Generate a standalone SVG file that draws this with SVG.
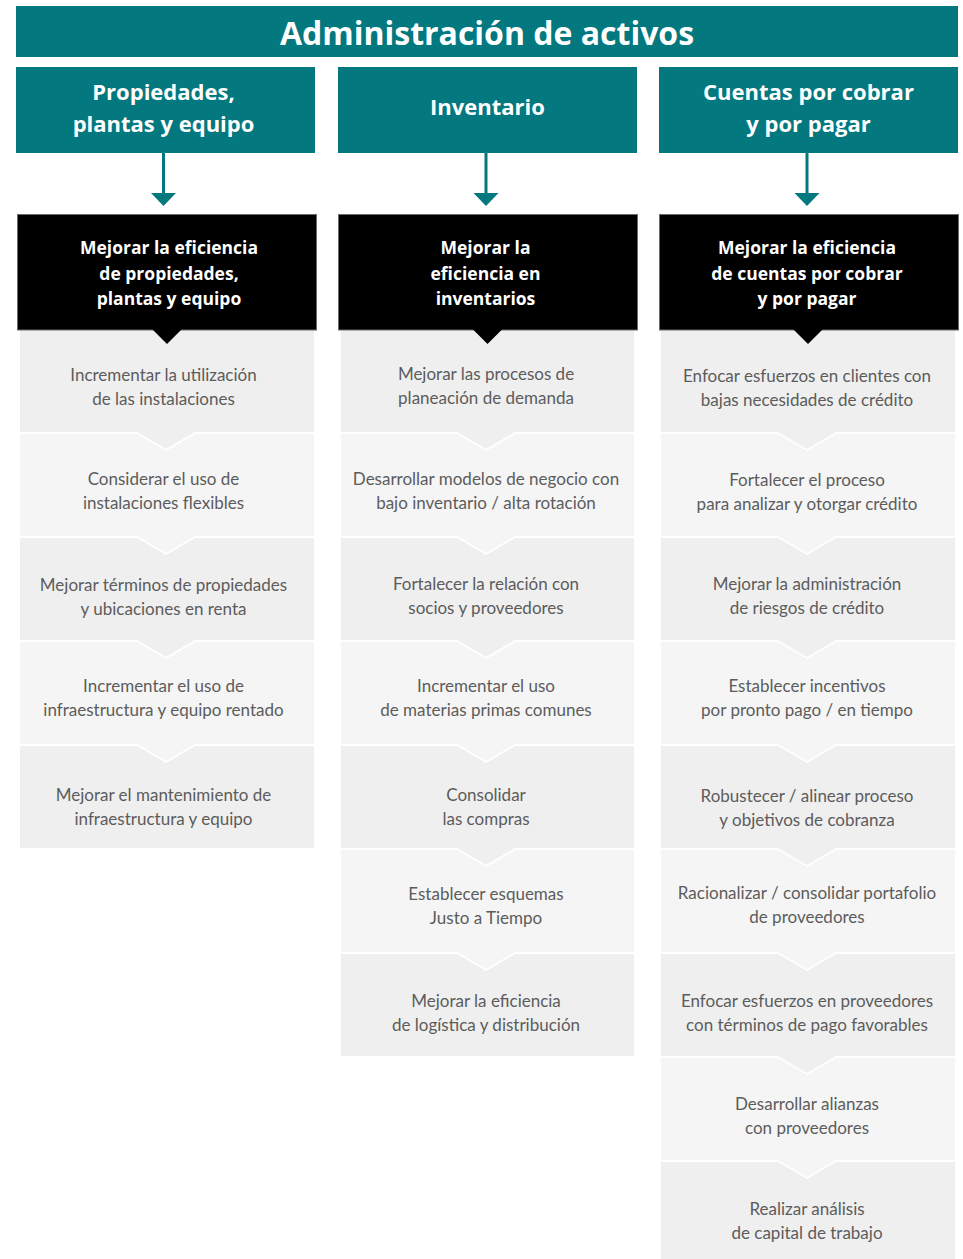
<svg xmlns="http://www.w3.org/2000/svg" width="963" height="1259" viewBox="0 0 963 1259">
<style>
.teal{fill:#03787f}
.hd{font-family:"Open Sans","Liberation Sans",sans-serif;font-weight:bold;fill:#fff;text-anchor:middle}
.t1{font-size:32px}
.t2{font-size:22px}
.t3{font-size:17.5px}
.blk{fill:#000;stroke:#6b6b6b;stroke-width:1}
.dk{fill:#efefef}
.lt{fill:#f5f5f5}
.g{font-family:Lato,"Liberation Sans",sans-serif;font-size:17px;fill:#5c5c5c;text-anchor:middle}
.conn{stroke:#03787f;stroke-width:3;fill:none}
</style>
<rect width="963" height="1259" fill="#fff"/>
<g id="title"><rect class="teal" x="16" y="6" width="942" height="51"/><text class="hd t1" x="487" y="44.5">Administración de activos</text></g>
<g id="h1"><rect class="teal" x="16" y="67" width="299" height="86"/><text class="hd t2" x="163.5" y="100">Propiedades,</text><text class="hd t2" x="163.5" y="132">plantas y equipo</text></g>
<g id="h2"><rect class="teal" x="338" y="67" width="299" height="86"/><text class="hd t2" x="487.5" y="115">Inventario</text></g>
<g id="h3"><rect class="teal" x="659" y="67" width="299" height="86"/><text class="hd t2" x="808.5" y="100">Cuentas por cobrar</text><text class="hd t2" x="808.5" y="132">y por pagar</text></g>
<g id="connectors">
<line class="conn" x1="163.5" y1="153" x2="163.5" y2="194"/><polygon class="teal" points="151,193 176,193 163.5,206"/>
<line class="conn" x1="486" y1="153" x2="486" y2="194"/><polygon class="teal" points="473.5,193 498.5,193 486,206"/>
<line class="conn" x1="807" y1="153" x2="807" y2="194"/><polygon class="teal" points="794.5,193 819.5,193 807,206"/>
</g>
<!-- column 1 -->
<g id="c1b1"><polygon class="dk" points="20,330 314,330 314,432 195,432 166,449 137,432 20,432"/><text class="g" x="163.5" y="381">Incrementar la utilización</text><text class="g" x="163.5" y="405">de las instalaciones</text></g>
<g id="c1b2"><polygon class="lt" points="20,434 137,434 166,451 195,434 314,434 314,536 195,536 166,553 137,536 20,536"/><text class="g" x="163.5" y="485">Considerar el uso de</text><text class="g" x="163.5" y="509">instalaciones flexibles</text></g>
<g id="c1b3"><polygon class="dk" points="20,538 137,538 166,555 195,538 314,538 314,640 195,640 166,657 137,640 20,640"/><text class="g" x="163.5" y="591">Mejorar términos de propiedades</text><text class="g" x="163.5" y="615">y ubicaciones en renta</text></g>
<g id="c1b4"><polygon class="lt" points="20,642 137,642 166,659 195,642 314,642 314,744 195,744 166,761 137,744 20,744"/><text class="g" x="163.5" y="692">Incrementar el uso de</text><text class="g" x="163.5" y="716">infraestructura y equipo rentado</text></g>
<g id="c1b5"><polygon class="dk" points="20,746 137,746 166,763 195,746 314,746 314,848 20,848"/><text class="g" x="163.5" y="801">Mejorar el mantenimiento de</text><text class="g" x="163.5" y="825">infraestructura y equipo</text></g>
<g id="c1k"><rect class="blk" x="17.5" y="214.5" width="299" height="115.5"/><polygon fill="#000" points="152,329 182,329 167,344"/><text class="hd t3" x="169" y="254">Mejorar la eficiencia</text><text class="hd t3" x="169" y="280">de propiedades,</text><text class="hd t3" x="169" y="305">plantas y equipo</text></g>
<!-- column 2 -->
<g id="c2b1"><polygon class="dk" points="341,330 634,330 634,432 515,432 486,449 457,432 341,432"/><text class="g" x="486" y="380">Mejorar las procesos de</text><text class="g" x="486" y="404">planeación de demanda</text></g>
<g id="c2b2"><polygon class="lt" points="341,434 457,434 486,451 515,434 634,434 634,536 515,536 486,553 457,536 341,536"/><text class="g" x="486" y="485">Desarrollar modelos de negocio con</text><text class="g" x="486" y="509">bajo inventario / alta rotación</text></g>
<g id="c2b3"><polygon class="dk" points="341,538 457,538 486,555 515,538 634,538 634,640 515,640 486,657 457,640 341,640"/><text class="g" x="486" y="590">Fortalecer la relación con</text><text class="g" x="486" y="614">socios y proveedores</text></g>
<g id="c2b4"><polygon class="lt" points="341,642 457,642 486,659 515,642 634,642 634,744 515,744 486,761 457,744 341,744"/><text class="g" x="486" y="692">Incrementar el uso</text><text class="g" x="486" y="716">de materias primas comunes</text></g>
<g id="c2b5"><polygon class="dk" points="341,746 457,746 486,763 515,746 634,746 634,848 515,848 486,865 457,848 341,848"/><text class="g" x="486" y="801">Consolidar</text><text class="g" x="486" y="825">las compras</text></g>
<g id="c2b6"><polygon class="lt" points="341,850 457,850 486,867 515,850 634,850 634,952 515,952 486,969 457,952 341,952"/><text class="g" x="486" y="900">Establecer esquemas</text><text class="g" x="486" y="924">Justo a Tiempo</text></g>
<g id="c2b7"><polygon class="dk" points="341,954 457,954 486,971 515,954 634,954 634,1056 341,1056"/><text class="g" x="486" y="1007">Mejorar la eficiencia</text><text class="g" x="486" y="1031">de logística y distribución</text></g>
<g id="c2k"><rect class="blk" x="338.5" y="214.5" width="299" height="115.5"/><polygon fill="#000" points="472.5,329 502.5,329 487.5,344"/><text class="hd t3" x="485.5" y="254">Mejorar la</text><text class="hd t3" x="485.5" y="280">eficiencia en</text><text class="hd t3" x="485.5" y="305">inventarios</text></g>
<!-- column 3 -->
<g id="c3b1"><polygon class="dk" points="661,330 955,330 955,432 836,432 807,449 778,432 661,432"/><text class="g" x="807" y="382">Enfocar esfuerzos en clientes con</text><text class="g" x="807" y="406">bajas necesidades de crédito</text></g>
<g id="c3b2"><polygon class="lt" points="661,434 778,434 807,451 836,434 955,434 955,536 836,536 807,553 778,536 661,536"/><text class="g" x="807" y="486">Fortalecer el proceso</text><text class="g" x="807" y="510">para analizar y otorgar crédito</text></g>
<g id="c3b3"><polygon class="dk" points="661,538 778,538 807,555 836,538 955,538 955,640 836,640 807,657 778,640 661,640"/><text class="g" x="807" y="590">Mejorar la administración</text><text class="g" x="807" y="614">de riesgos de crédito</text></g>
<g id="c3b4"><polygon class="lt" points="661,642 778,642 807,659 836,642 955,642 955,744 836,744 807,761 778,744 661,744"/><text class="g" x="807" y="692">Establecer incentivos</text><text class="g" x="807" y="716">por pronto pago / en tiempo</text></g>
<g id="c3b5"><polygon class="dk" points="661,746 778,746 807,763 836,746 955,746 955,848 836,848 807,865 778,848 661,848"/><text class="g" x="807" y="802">Robustecer / alinear proceso</text><text class="g" x="807" y="826">y objetivos de cobranza</text></g>
<g id="c3b6"><polygon class="lt" points="661,850 778,850 807,867 836,850 955,850 955,952 836,952 807,969 778,952 661,952"/><text class="g" x="807" y="899">Racionalizar / consolidar portafolio</text><text class="g" x="807" y="923">de proveedores</text></g>
<g id="c3b7"><polygon class="dk" points="661,954 778,954 807,971 836,954 955,954 955,1056 836,1056 807,1073 778,1056 661,1056"/><text class="g" x="807" y="1007">Enfocar esfuerzos en proveedores</text><text class="g" x="807" y="1031">con términos de pago favorables</text></g>
<g id="c3b8"><polygon class="lt" points="661,1058 778,1058 807,1075 836,1058 955,1058 955,1160 836,1160 807,1177 778,1160 661,1160"/><text class="g" x="807" y="1110">Desarrollar alianzas</text><text class="g" x="807" y="1134">con proveedores</text></g>
<g id="c3b9"><polygon class="dk" points="661,1162 778,1162 807,1179 836,1162 955,1162 955,1259 661,1259"/><text class="g" x="807" y="1215">Realizar análisis</text><text class="g" x="807" y="1239">de capital de trabajo</text></g>
<g id="c3k"><rect class="blk" x="659.5" y="214.5" width="299" height="115.5"/><polygon fill="#000" points="793,329 823,329 808,344"/><text class="hd t3" x="807" y="254">Mejorar la eficiencia</text><text class="hd t3" x="807" y="280">de cuentas por cobrar</text><text class="hd t3" x="807" y="305">y por pagar</text></g>
</svg>
